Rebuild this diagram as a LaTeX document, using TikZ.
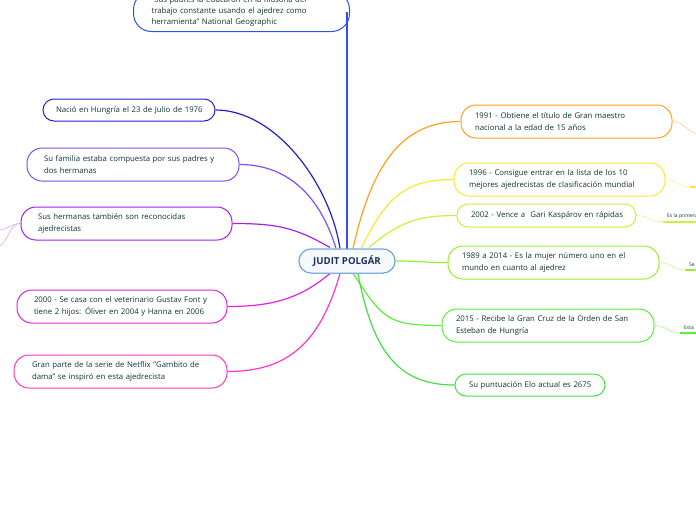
\documentclass[tikz,border=0pt]{standalone}
\usepackage{fontspec}
\setmainfont{Open Sans}
\usetikzlibrary{calc}
\definecolor{txt}{HTML}{0E3530}
\definecolor{cCen}{HTML}{6AA6DC}
\definecolor{cCenFill}{HTML}{F6FAFE}
\definecolor{cCenTxt}{HTML}{1F2D5C}
\definecolor{cTop}{HTML}{3050EA}
\definecolor{cNac}{HTML}{2222C8}
\definecolor{cFam}{HTML}{8050F0}
\definecolor{cHer}{HTML}{A422F0}
\definecolor{cHerL}{HTML}{D8A8F4}
\definecolor{cCas}{HTML}{E024E0}
\definecolor{cNet}{HTML}{FF38C4}
\definecolor{cA}{HTML}{FFA020}
\definecolor{cAL}{HTML}{FFD08A}
\definecolor{cB}{HTML}{FFE633}
\definecolor{cBL}{HTML}{FFF0A0}
\definecolor{cC}{HTML}{CCF03C}
\definecolor{cCL}{HTML}{E4F6A0}
\definecolor{cD}{HTML}{99EE33}
\definecolor{cDL}{HTML}{CCF59A}
\definecolor{cE}{HTML}{5AEE3A}
\definecolor{cEL}{HTML}{AAF59A}
\definecolor{cF}{HTML}{44E044}
\begin{document}
\begin{tikzpicture}[x=1pt,y=-1pt,
  topic/.style={draw, line width=1pt, fill=white, text=txt,
    font=\fontsize{7.8}{11.8}\selectfont, align=left, inner xsep=15pt,
    inner ysep=0pt, rounded corners=12pt},
  conn/.style={line width=1.2pt},
  sub/.style={line width=0.6pt},
  under/.style={line width=2.4pt},
  cen/.style={draw=cCen, fill=cCenFill, line width=1pt, rounded corners=12pt,
    minimum width=96pt, minimum height=24pt, inner sep=0pt,
    text=cCenTxt, font=\fontsize{9.6}{11}\selectfont\bfseries},
  sublabel/.style={font=\fontsize{5}{6}\selectfont, text=txt, inner sep=0pt, anchor=south west}]
\useasboundingbox (0,0) rectangle (696,520);
\clip (0,0) rectangle (696,520);
\fill[white] (0,0) rectangle (696,520);

% central
\node[cen] (c) at (347,261) {JUDIT POLGÁR};

% top
\node[topic, draw=cTop, text width=180pt, minimum height=40pt, inner xsep=18pt, rounded corners=18pt,
  font=\fontsize{7.8}{11.2}\selectfont] (t) at (241.5,11.5)
  {\mbox{"Sus padres la educaron en la filosofía del}\\\mbox{trabajo constante usando el ajedrez como}\\\mbox{herramienta" National Geographic}};

% left
\node[topic, draw=cNac, text width=146pt, minimum height=22pt, inner xsep=13pt, rounded corners=11pt] (n1) at (129,110)
  {\mbox{Nació en Hungría el 23 de Julio de 1976}};
\node[topic, draw=cFam, text width=178pt, minimum height=33pt, inner xsep=17pt, rounded corners=15pt] (n2) at (133,164.5)
  {\mbox{Su familia estaba compuesta por sus padres y}\\\mbox{dos hermanas}};
\node[topic, draw=cHer, text width=177pt, minimum height=33pt, inner xsep=17pt, rounded corners=15pt] (n3) at (126.5,223.5)
  {\mbox{Sus hermanas también son reconocidas}\\\mbox{ajedrecistas}};
\node[topic, draw=cCas, text width=176pt, minimum height=33pt, inner xsep=17pt, rounded corners=15pt] (n4) at (122,306.5)
  {\mbox{2000 - Se casa con el veterinario Gustav Font y}\\\mbox{tiene 2 hijos: Óliver en 2004 y Hanna en 2006}};
\node[topic, draw=cNet, text width=177pt, minimum height=33pt, inner xsep=18pt, rounded corners=15pt] (n5) at (120.5,371.5)
  {\mbox{Gran parte de la serie de Netflix "Gambito de}\\\mbox{dama" se inspiró en esta ajedrecista}};

% right
\node[topic, draw=cA, text width=183pt, minimum height=33pt, inner xsep=14pt, rounded corners=15pt] (r1) at (566.5,121.5)
  {\mbox{1991 - Obtiene el título de Gran maestro}\\\mbox{nacional a la edad de 15 años}};
\node[topic, draw=cB, text width=181pt, minimum height=33pt, inner xsep=15pt, rounded corners=15pt] (r2) at (559.5,179.5)
  {\mbox{1996 - Consigue entrar en la lista de los 10}\\\mbox{mejores ajedrecistas de clasificación mundial}};
\node[topic, draw=cC, text width=151pt, minimum height=23pt, inner xsep=14pt, rounded corners=11pt] (r3) at (546.5,215.5)
  {\mbox{2002 - Vence a\ \ Gari Kaspárov en rápidas}};
\node[topic, draw=cD, text width=183pt, minimum height=33pt, inner xsep=14pt, rounded corners=15pt] (r4) at (553.5,262.5)
  {\mbox{1989 a 2014 - Es la mujer número uno en el}\\\mbox{mundo en cuanto al ajedrez}};
\node[topic, draw=cE, text width=184pt, minimum height=33pt, inner xsep=14pt, rounded corners=15pt] (r5) at (548,325.5)
  {\mbox{2015 - Recibe la Gran Cruz de la Orden de San}\\\mbox{Esteban de Hungría}};
\node[topic, draw=cF, text width=122pt, minimum height=22pt, inner xsep=14pt, rounded corners=11pt] (r6) at (530,385)
  {\mbox{Su puntuación Elo actual es 2675}};

% connectors from center
\draw[conn, cTop] (c.north) -- (c.north |- t.east);
\draw[conn, cNac] ([xshift=-7pt]c.north) .. controls +(-10,-65) and +(60,0) .. (n1.east);
\draw[conn, cFam] ([xshift=-11pt]c.north) .. controls +(-15,-50) and +(50,0) .. (n2.east);
\draw[conn, cHer] ([xshift=-17pt,yshift=1pt]c.north) .. controls +(-35,-20) and +(45,0) .. (n3.east);
\draw[conn, cCas] ([xshift=-17pt]c.south) .. controls +(-30,25) and +(45,0) .. (n4.east);
\draw[conn, cNet] ([xshift=-7pt]c.south) .. controls +(-20,70) and +(60,0) .. (n5.east);
\draw[conn, cA] ([xshift=6pt]c.north) .. controls +(20,-90) and +(-55,0) .. (r1.west);
\draw[conn, cB] ([xshift=14pt]c.north) .. controls +(25,-50) and +(-50,0) .. (r2.west);
\draw[conn, cC] ([xshift=22pt,yshift=1pt]c.north) .. controls +(30,-25) and +(-40,0) .. (r3.west);
\draw[conn, cD] (c.east) .. controls +(25,0) and +(-25,0) .. (r4.west);
\draw[conn, cE] ([xshift=6pt]c.south) .. controls +(30,45) and +(-55,0) .. (r5.west);
\draw[conn, cF] ([xshift=11pt]c.south) .. controls +(15,80) and +(-55,0) .. (r6.west);

% central node drawn again over the connector ends
\node[cen] at (c) {JUDIT POLGÁR};

% left sub-branches of n3
\coordinate (h1) at (-2,230);
\coordinate (h2) at (-2,247);
\draw[sub, cHerL] (n3.west) .. controls +(-10,0) and +(10,0) .. (h1);
\draw[sub, cHerL] (n3.west) .. controls +(-12,0) and +(12,-6) .. (h2);

% right sub-branches
\coordinate (k1) at (700,134);
\draw[sub, cAL] (r1.east) .. controls +(12,0) and +(-12,0) .. (k1);
\coordinate (k2) at (690,187);
\draw[sub, cBL] (r2.east) .. controls +(12,0) and +(-12,0) .. (k2);
\draw[under, cB] (k2) -- (700,187);
\coordinate (k3) at (663,222);
\draw[sub, cCL] (r3.east) .. controls +(12,0) and +(-12,0) .. (k3);
\draw[under, cC] (k3) -- (700,222);
\node[sublabel] (l3) at (667,219) {Es la primera};
\coordinate (k4) at (685,270);
\draw[sub, cDL] (r4.east) .. controls +(12,0) and +(-12,0) .. (k4);
\draw[under, cD] (k4) -- (700,270);
\node[sublabel] (l4) at (689,267) {Se};
\coordinate (k5) at (680,333);
\draw[sub, cEL] (r5.east) .. controls +(12,0) and +(-12,0) .. (k5);
\draw[under, cE] (k5) -- (700,333);
\node[sublabel] (l5) at (684,330) {Esta};
\end{tikzpicture}
\end{document}
